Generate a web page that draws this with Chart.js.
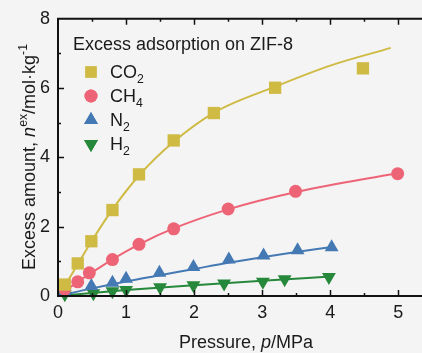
<!DOCTYPE html>
<html>
<head>
<meta charset="utf-8">
<script src="https://cdn.jsdelivr.net/npm/chart.js@4/dist/chart.umd.min.js"></script>
<style>
  html, body { margin: 0; padding: 0; background: #f4f4f4; overflow: hidden; }
  canvas { display: block; }
</style>
</head>
<body>
<canvas id="isotherm" width="422" height="353"></canvas>
<script>
// =====================================
// DATA (pressure in MPa, excess amount in mol/kg)
// =====================================
const co2P = [0.1, 0.29, 0.49, 0.8, 1.19, 1.7, 2.29, 3.19, 4.48];
const co2N = [0.33, 0.94, 1.58, 2.48, 3.51, 4.49, 5.28, 6.01, 6.57];
const ch4P = [0.1, 0.29, 0.46, 0.8, 1.19, 1.7, 2.5, 3.49, 4.99];
const ch4N = [0.2, 0.41, 0.67, 1.05, 1.49, 1.94, 2.51, 3.02, 3.53];
const n2P = [0.1, 0.49, 0.8, 1.0, 1.49, 1.99, 2.51, 3.02, 3.52, 4.02];
const n2N = [0.12, 0.29, 0.38, 0.5, 0.67, 0.84, 1.05, 1.17, 1.32, 1.41];
const h2P = [0.1, 0.52, 0.8, 1.0, 1.5, 1.99, 2.44, 3.01, 3.33, 3.98];
const h2N = [0.05, 0.08, 0.14, 0.17, 0.25, 0.31, 0.36, 0.41, 0.48, 0.55];

// fitted isotherm curves
const co2FitP = [0, 0.1, 0.3, 0.5, 0.8, 1.2, 1.7, 2.3, 3.2, 4.0, 4.89];
const co2FitN = [0, 0.3, 0.95, 1.6, 2.5, 3.5, 4.45, 5.3, 6.05, 6.65, 7.16];
const ch4FitP = [0, 0.3, 0.5, 0.8, 1.2, 1.7, 2.5, 3.5, 5.0];
const ch4FitN = [0, 0.42, 0.68, 1.06, 1.5, 1.95, 2.5, 3.0, 3.55];
const n2FitP = [0, 0.5, 1, 1.5, 2, 2.5, 3, 3.5, 4];
const n2FitN = [0, 0.22, 0.42, 0.6, 0.78, 0.96, 1.12, 1.27, 1.41];
const h2FitP = [0, 1, 2, 3, 4];
const h2FitN = [0, 0.17, 0.31, 0.44, 0.56];

const xTicks = [0, 1, 2, 3, 4, 5];
const yTicks = [0, 2, 4, 6, 8];

const COLORS = { co2: "#cfba44", ch4: "#ee6477", n2: "#4479b4", h2: "#26883a" };
const FONT = "'Liberation Sans', Arial, sans-serif";
const FS = 18;

function pairs(xs, ys) {
  return xs.map((x, i) => ({ x: x, y: ys[i] }));
}

function markerSet(label, xs, ys, color, style, radius, rotation) {
  return {
    label: label,
    data: pairs(xs, ys),
    showLine: false,
    pointStyle: style,
    pointRadius: radius,
    pointRotation: rotation || 0,
    pointBackgroundColor: color,
    pointBorderWidth: 0,
    borderColor: color,
    order: 1
  };
}

function fitSet(xs, ys, color) {
  return {
    data: pairs(xs, ys),
    showLine: true,
    borderColor: color,
    borderWidth: 2,
    pointRadius: 0,
    cubicInterpolationMode: "monotone",
    order: 2
  };
}

// draws a string made of runs: {t, italic, sup, sub}
function drawRuns(ctx, runs, x, y, size, align) {
  const widths = runs.map(r => {
    const s = (r.sup || r.sub) ? size * 0.68 : size;
    ctx.font = (r.italic ? "italic " : "") + s + "px " + FONT;
    return ctx.measureText(r.t).width;
  });
  const total = widths.reduce((a, b) => a + b, 0);
  let cx = align === "center" ? x - total / 2 : x;
  runs.forEach((r, i) => {
    const s = (r.sup || r.sub) ? size * 0.68 : size;
    ctx.font = (r.italic ? "italic " : "") + s + "px " + FONT;
    let dy = 0;
    if (r.sup) dy = -size * 0.42;
    if (r.sub) dy = size * 0.3;
    ctx.fillText(r.t, cx, y + dy);
    cx += widths[i];
  });
}

// frame, inward ticks, axis titles and legend box
const decorations = {
  id: "decorations",
  afterDraw(chart) {
    const { ctx, chartArea: a, scales } = chart;
    const xs = scales.x, ys = scales.y;
    ctx.save();
    ctx.strokeStyle = "#111";
    ctx.lineWidth = 2;
    ctx.beginPath();
    ctx.moveTo(chart.width, a.top);
    ctx.lineTo(a.left, a.top);
    ctx.lineTo(a.left, a.bottom);
    ctx.lineTo(chart.width, a.bottom);
    ctx.stroke();

    ctx.lineWidth = 1.5;
    ctx.beginPath();
    for (let v = 0.5; v <= 5.2; v += 0.5) {
      const px = Math.round(xs.getPixelForValue(v)) + 0.5;
      const len = Number.isInteger(v) ? 6 : 3;
      ctx.moveTo(px, a.bottom);
      ctx.lineTo(px, a.bottom - len);
      ctx.moveTo(px, a.top);
      ctx.lineTo(px, a.top + len);
    }
    for (let v = 1; v < 8; v += 1) {
      const py = Math.round(ys.getPixelForValue(v)) + 0.5;
      const len = v % 2 === 0 ? 6 : 3;
      ctx.moveTo(a.left, py);
      ctx.lineTo(a.left + len, py);
    }
    ctx.stroke();

    ctx.fillStyle = "#1a1a1a";
    ctx.textBaseline = "alphabetic";
    ctx.textAlign = "left";
    drawRuns(ctx, [
      { t: "Pressure, " }, { t: "p", italic: true }, { t: "/MPa" }
    ], 246, 348, FS, "center");

    ctx.save();
    ctx.translate(35, 157);
    ctx.rotate(-Math.PI / 2);
    drawRuns(ctx, [
      { t: "Excess amount, " }, { t: "n", italic: true }, { t: "ex", sup: true },
      { t: "/mol·kg" }, { t: "-1", sup: true }
    ], 0, 0, FS, "center");
    ctx.restore();

    // legend
    drawRuns(ctx, [{ t: "Excess adsorption on ZIF-8" }], 73, 50, FS, "left");
    const items = [
      { name: "CO", sub: "2", color: COLORS.co2, style: "rect", r: 8, rot: 0 },
      { name: "CH", sub: "4", color: COLORS.ch4, style: "circle", r: 6.5, rot: 0 },
      { name: "N", sub: "2", color: COLORS.n2, style: "triangle", r: 8, rot: 0 },
      { name: "H", sub: "2", color: COLORS.h2, style: "triangle", r: 8, rot: 180 }
    ];
    items.forEach((it, i) => {
      const cy = 72 + i * 24;
      ctx.fillStyle = it.color;
      Chart.helpers.drawPoint(ctx, { pointStyle: it.style, radius: it.r, rotation: it.rot, borderWidth: 0 }, 91, cy);
      ctx.fill();
      ctx.fillStyle = "#1a1a1a";
      drawRuns(ctx, [{ t: it.name }, { t: it.sub, sub: true }], 110, cy + 6, FS, "left");
    });
    ctx.restore();
  }
};

new Chart(document.getElementById("isotherm"), {
  type: "scatter",
  data: {
    datasets: [
      markerSet("CO2", co2P, co2N, COLORS.co2, "rect", 8.7),
      markerSet("CH4", ch4P, ch4N, COLORS.ch4, "circle", 6.5),
      markerSet("N2", n2P, n2N, COLORS.n2, "triangle", 8),
      markerSet("H2", h2P, h2N, COLORS.h2, "triangle", 8, 180),
      fitSet(co2FitP, co2FitN, COLORS.co2),
      fitSet(ch4FitP, ch4FitN, COLORS.ch4),
      fitSet(n2FitP, n2FitN, COLORS.n2),
      fitSet(h2FitP, h2FitN, COLORS.h2)
    ]
  },
  options: {
    responsive: false,
    animation: false,
    clip: false,
    layout: { padding: { top: 17, right: 0, left: 0, bottom: 0 } },
    plugins: { legend: { display: false }, tooltip: { enabled: false } },
    scales: {
      x: {
        type: "linear",
        min: 0,
        max: 5.22,
        border: { display: false },
        grid: { display: false, drawTicks: false },
        afterBuildTicks: s => { s.ticks = xTicks.map(v => ({ value: v })); },
        afterFit: s => { s.height = 57; },
        ticks: { padding: 6, color: "#1a1a1a", font: { family: FONT, size: FS }, maxRotation: 0 }
      },
      y: {
        type: "linear",
        min: 0,
        max: 8,
        border: { display: false },
        grid: { display: false, drawTicks: false },
        afterBuildTicks: s => { s.ticks = yTicks.map(v => ({ value: v })); },
        afterFit: s => { s.width = 58; },
        ticks: { padding: 8, color: "#1a1a1a", font: { family: FONT, size: FS } }
      }
    }
  },
  plugins: [decorations]
});
</script>
</body>
</html>
